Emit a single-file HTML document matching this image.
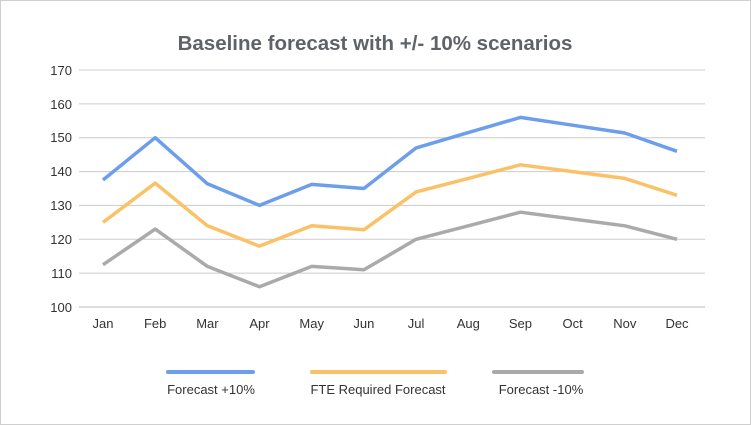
<!DOCTYPE html>
<html><head><style>
body{margin:0;background:#fff}
svg{display:block;font-family:"Liberation Sans",sans-serif}
</style></head><body>
<svg width="751" height="425" viewBox="0 0 751 425" xmlns="http://www.w3.org/2000/svg">
<rect x="0.5" y="0.5" width="750" height="424" fill="#fff" stroke="#cfcfcf"/>
<text x="375" y="50" text-anchor="middle" font-size="20.5" font-weight="bold" fill="#5f6368">Baseline forecast with +/- 10% scenarios</text>
<g stroke="#cccccc" stroke-width="1">
<line x1="79" x2="705" y1="70" y2="70"/>
<line x1="79" x2="705" y1="103.9" y2="103.9"/>
<line x1="79" x2="705" y1="137.7" y2="137.7"/>
<line x1="79" x2="705" y1="171.6" y2="171.6"/>
<line x1="79" x2="705" y1="205.4" y2="205.4"/>
<line x1="79" x2="705" y1="239.3" y2="239.3"/>
<line x1="79" x2="705" y1="273.1" y2="273.1"/>
<line x1="79" x2="705" y1="307" y2="307" stroke="#bbb"/>
</g>
<g font-size="13" fill="#333" text-anchor="end">
<text x="72" y="75">170</text><text x="72" y="109">160</text><text x="72" y="142">150</text><text x="72" y="176">140</text>
<text x="72" y="210">130</text><text x="72" y="244">120</text><text x="72" y="278">110</text><text x="72" y="312">100</text>
</g>
<g font-size="13" fill="#333" text-anchor="middle">
<text x="103" y="328">Jan</text><text x="155.2" y="328">Feb</text><text x="207.4" y="328">Mar</text><text x="259.5" y="328">Apr</text>
<text x="311.7" y="328">May</text><text x="363.9" y="328">Jun</text><text x="416.1" y="328">Jul</text><text x="468.3" y="328">Aug</text>
<text x="520.4" y="328">Sep</text><text x="572.6" y="328">Oct</text><text x="624.8" y="328">Nov</text><text x="677" y="328">Dec</text>
</g>
<g fill="none" stroke-width="3.5" stroke-linejoin="round">
<polyline stroke="#6d9eeb" points="103,180 155.2,137.7 207.4,183.8 259.5,205.4 311.7,184.4 363.9,188.5 416.1,147.9 468.3,132.6 520.4,117.4 572.6,125.2 624.8,133 677,151.3"/>
<polyline stroke="#fbc166" points="103,222.4 155.2,183.1 207.4,225.8 259.5,246.1 311.7,225.8 363.9,229.8 416.1,191.9 468.3,178.4 520.4,164.8 572.6,171.6 624.8,178.4 677,195.3"/>
<polyline stroke="#aaaaaa" points="103,264.7 155.2,229.1 207.4,266.4 259.5,286.7 311.7,266.4 363.9,269.8 416.1,239.3 468.3,225.8 520.4,212.2 572.6,219 624.8,225.8 677,239.3"/>
</g>
<g stroke-width="4" stroke-linecap="round">
<line x1="168" x2="253" y1="372" y2="372" stroke="#6d9eeb"/>
<line x1="312" x2="445" y1="372" y2="372" stroke="#fbc166"/>
<line x1="494" x2="582" y1="372" y2="372" stroke="#aaaaaa"/>
</g>
<g font-size="13" fill="#333" text-anchor="middle">
<text x="211" y="394">Forecast +10%</text>
<text x="378" y="394">FTE Required Forecast</text>
<text x="541" y="394">Forecast -10%</text>
</g>
</svg>
</body></html>
